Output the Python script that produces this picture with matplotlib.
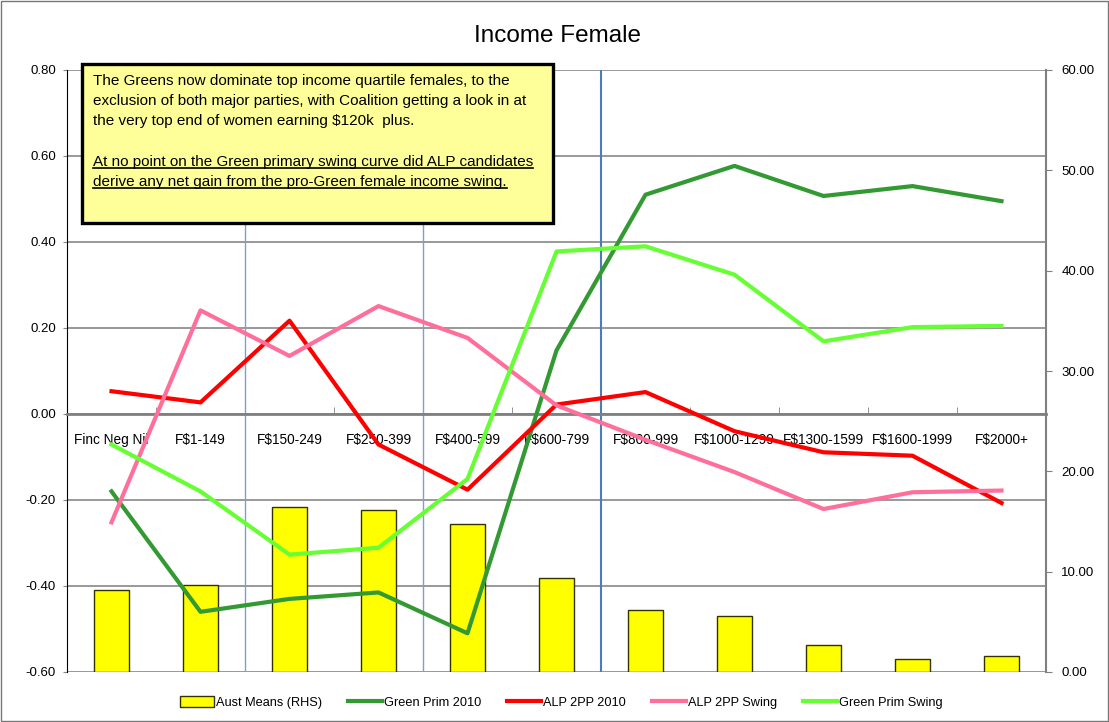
import numpy as np
import matplotlib
matplotlib.use('Agg')
import matplotlib.pyplot as plt
from matplotlib.patches import Rectangle
from matplotlib.lines import Line2D

plt.rcParams['font.family'] = ['Liberation Sans', 'DejaVu Sans']

# data
categories = ['Finc Neg Nil', 'F$1-149', 'F$150-249', 'F$250-399', 'F$400-599', 'F$600-799',
              'F$800-999', 'F$1000-1299', 'F$1300-1599', 'F$1600-1999', 'F$2000+']
aust_means = [8.2, 8.7, 16.4, 16.1, 14.8, 9.4, 6.2, 5.6, 2.7, 1.3, 1.6]
green_prim_2010 = [-0.18, -0.46, -0.43, -0.415, -0.51, 0.148, 0.51, 0.577, 0.507, 0.53, 0.495]
alp_2pp_2010 = [0.053, 0.027, 0.217, -0.071, -0.176, 0.022, 0.051, -0.04, -0.089, -0.097, -0.207]
alp_2pp_swing = [-0.252, 0.241, 0.135, 0.251, 0.177, 0.02, -0.06, -0.135, -0.221, -0.182, -0.178]
green_prim_swing = [-0.071, -0.18, -0.327, -0.311, -0.151, 0.378, 0.39, 0.324, 0.169, 0.202, 0.205]
left_ticks = [-0.6, -0.4, -0.2, 0.0, 0.2, 0.4, 0.6, 0.8]
right_ticks = [0, 10, 20, 30, 40, 50, 60]
dividers = [1.5, 3.5, 5.5]

note_lines = ['The Greens now dominate top income quartile females, to the',
              'exclusion of both major parties, with Coalition getting a look in at',
              'the very top end of women earning $120k  plus.']
note_underlined = ['At no point on the Green primary swing curve did ALP candidates',
                   'derive any net gain from the pro-Green female income swing.']

W, H = 1109, 722
fig = plt.figure(figsize=(W / 100, H / 100), dpi=100)
fig.patch.set_facecolor('white')

x = np.arange(len(categories))

# left axis: grid, blue dividers, category labels
ax = fig.add_axes([67 / W, 50 / H, 979 / W, 602 / H])
ax.set_xlim(-0.5, len(categories) - 0.5)
ax.set_ylim(-0.6, 0.8)
ax.set_yticks(left_ticks)
ax.set_yticklabels(['%.2f' % v for v in left_ticks], fontsize=9.5)
ax.yaxis.grid(True, color='#888888', lw=1.2)
ax.set_axisbelow(True)
for d in dividers:
    c = '#4A7EBB' if d == dividers[-1] else '#7F9FCF'
    ax.axvline(d, color=c, lw=1.5 if d == dividers[-1] else 1.0, zorder=1)
ax.spines['top'].set_visible(False)
ax.spines['right'].set_visible(False)
ax.spines['left'].set_color('black')
ax.spines['bottom'].set_position(('data', 0))
ax.spines['bottom'].set_color('#808080')
ax.spines['bottom'].set_linewidth(2)
ax.set_xticks(x)
ax.set_xticklabels(categories, fontsize=9.8)
ax.set_xticks(np.arange(0.5, len(categories) - 1, 1), minor=True)
ax.tick_params(axis='x', which='major', length=0, pad=14)
ax.tick_params(axis='x', which='minor', direction='in', length=5, color='#808080')
ax.tick_params(axis='y', length=3, pad=5, color='#888888')

# right axis: bars
ax2 = ax.twinx()
ax2.set_ylim(0, 60)
ax2.bar(x, aust_means, width=0.4, color='#FFFF00', edgecolor='#333300', lw=1,
        label='Aust Means (RHS)', zorder=2)
ax2.set_yticks(right_ticks)
ax2.set_yticklabels(['%.2f' % v for v in right_ticks], fontsize=9.5)
ax2.tick_params(axis='y', length=4, pad=7, color='#808080')
for s in ['left', 'top', 'bottom']:
    ax2.spines[s].set_visible(False)
ax2.spines['right'].set_color('#808080')
ax2.spines['right'].set_linewidth(1.5)

# lines on top, same scale as left axis
ax3 = ax.twinx()
ax3.set_ylim(-0.6, 0.8)
ax3.set_yticks([])
for s in ax3.spines.values():
    s.set_visible(False)
ax3.plot(x, green_prim_2010, color='#339933', lw=3, label='Green Prim 2010')
ax3.plot(x, alp_2pp_2010, color='#FF0000', lw=3, label='ALP 2PP 2010')
ax3.plot(x, alp_2pp_swing, color='#FF6F9C', lw=3, label='ALP 2PP Swing')
ax3.plot(x, green_prim_swing, color='#66FF33', lw=3, label='Green Prim Swing')

fig.text(557 / W, 1 - 36 / H, 'Income Female', ha='center', va='center', fontsize=17.5)

# note box
box = Rectangle((82 / W, 1 - 223 / H), 471 / W, 159 / H, transform=fig.transFigure,
                facecolor='#FFFF99', edgecolor='black', lw=2.4, zorder=10)
fig.patches.append(box)
texts = []
for i, line in enumerate(note_lines):
    fig.text(93 / W, 1 - (81 + 20 * i) / H, line, ha='left', va='center',
             fontsize=11, zorder=11)
for i, line in enumerate(note_underlined):
    t = fig.text(93 / W, 1 - (162 + 20 * i) / H, line, ha='left', va='center',
                 fontsize=11, zorder=11)
    texts.append(t)

# legend
h2, l2 = ax2.get_legend_handles_labels()
h3, l3 = ax3.get_legend_handles_labels()
fig.legend(h2 + h3, l2 + l3, loc='center', bbox_to_anchor=(0.506, 0.027), ncol=5,
           frameon=False, fontsize=9.2, handlelength=2.7, handleheight=1.0,
           handletextpad=0.15, columnspacing=2.0)

# underline the second paragraph
fig.canvas.draw()
r = fig.canvas.get_renderer()
for t in texts:
    bb = t.get_window_extent(r)
    yy = (bb.y0 + 1) / H
    fig.lines.append(Line2D([bb.x0 / W, bb.x1 / W], [yy, yy], transform=fig.transFigure,
                            color='black', lw=1.2, zorder=12))

# outer frame
fig.patches.append(Rectangle((0.001, 0.001), 0.998, 0.997, transform=fig.transFigure,
                             fill=False, edgecolor='#777777', lw=1))

fig.savefig('out.png', dpi=100)
